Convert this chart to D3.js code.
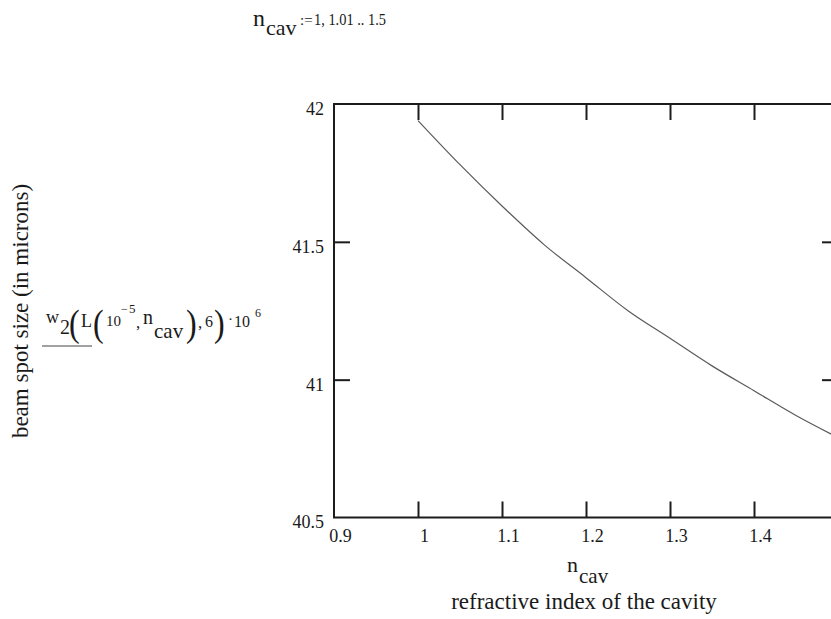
<!DOCTYPE html>
<html>
<head>
<meta charset="utf-8">
<script src="https://cdn.jsdelivr.net/npm/d3@7/dist/d3.min.js"></script>
<style>
  html, body { margin: 0; padding: 0; background: #fff; }
  svg { display: block; }
  text { font-family: "Liberation Serif", "Times New Roman", serif; fill: #1a1a1a; }
</style>
</head>
<body>
<svg id="chart" width="831" height="619"></svg>
<script>
// Refractive index of the cavity (n_cav) and beam spot size in microns
const nCav = [1.00, 1.05, 1.10, 1.15, 1.20, 1.25, 1.30, 1.35, 1.40, 1.45, 1.50];
const spotSize = [41.94, 41.78, 41.63, 41.49, 41.37, 41.25, 41.15, 41.05, 40.96, 40.87, 40.79];

const xTicks = [0.9, 1.0, 1.1, 1.2, 1.3, 1.4];
const xInnerTicks = [1.0, 1.1, 1.2, 1.3, 1.4];
const yTicks = [40.5, 41, 41.5, 42];
const yInnerTicks = [41, 41.5];

const svg = d3.select("#chart");

const plot = { left: 334, right: 838, top: 104, bottom: 517.5 };

const x = d3.scaleLinear().domain([0.9, 1.5]).range([plot.left, plot.right]);
const y = d3.scaleLinear().domain([40.5, 42]).range([plot.bottom, plot.top]);

const axisColor = "#1c1c1c";
const tickLen = 16;
const serif = "'Liberation Serif', 'Times New Roman', serif";

// Frame
svg.append("rect")
  .attr("x", plot.left).attr("y", plot.top)
  .attr("width", plot.right - plot.left).attr("height", plot.bottom - plot.top)
  .attr("fill", "none").attr("stroke", axisColor).attr("stroke-width", 2);

// Inner tick marks on all four sides
function innerTicks(axis, transform) {
  const g = svg.append("g").attr("transform", transform).call(axis);
  g.select(".domain").remove();
  g.selectAll(".tick line").attr("stroke", axisColor).attr("stroke-width", 2);
  g.selectAll(".tick text").remove();
}
innerTicks(d3.axisBottom(x).tickValues(xInnerTicks).tickSize(tickLen).tickFormat(""), `translate(0,${plot.top})`);
innerTicks(d3.axisTop(x).tickValues(xInnerTicks).tickSize(tickLen).tickFormat(""), `translate(0,${plot.bottom})`);
innerTicks(d3.axisRight(y).tickValues(yInnerTicks).tickSize(tickLen).tickFormat(""), `translate(${plot.left},0)`);
innerTicks(d3.axisLeft(y).tickValues(yInnerTicks).tickSize(tickLen).tickFormat(""), `translate(${plot.right},0)`);

// Tick labels
const fmt = d => String(+d.toFixed(2));
const xLab = svg.append("g").attr("transform", `translate(0,${plot.bottom})`)
  .call(d3.axisBottom(x).tickValues(xTicks).tickSize(0).tickPadding(12).tickFormat(fmt));
xLab.select(".domain").remove();
xLab.selectAll(".tick text").attr("font-size", 18).attr("dx", 6).attr("fill", "#1a1a1a")
  .style("font-family", serif);

const yLab = svg.append("g").attr("transform", `translate(${plot.left},0)`)
  .call(d3.axisLeft(y).tickValues(yTicks).tickSize(0).tickPadding(10).tickFormat(fmt));
yLab.select(".domain").remove();
yLab.selectAll(".tick text").attr("font-size", 18).attr("dy", "0.58em").attr("fill", "#1a1a1a")
  .style("font-family", serif);

// Curve
const pts = nCav.map((n, i) => [n, spotSize[i]]);
const line = d3.line().x(d => x(d[0])).y(d => y(d[1])).curve(d3.curveMonotoneX);
svg.append("path").datum(pts)
  .attr("d", line)
  .attr("fill", "none").attr("stroke", "#5a5a5a").attr("stroke-width", 1.2);

// Helper for a single positioned piece of text
function t(parent, xp, yp, s, size) {
  return parent.append("text").attr("x", xp).attr("y", yp).attr("font-size", size).text(s);
}
// Tall parenthesis, stretched vertically
function paren(parent, xp, yp, s, size, sy) {
  return t(parent, xp, yp, s, size)
    .attr("transform", `translate(${xp},${yp}) scale(1,${sy}) translate(${-xp},${-yp})`);
}

// Range definition above the plot
const head = svg.append("g");
t(head, 253, 26, "n", 24);
t(head, 266, 35, "cav", 22);
t(head, 300, 25, ":=", 15);
t(head, 314, 25, "1, 1.01 .. 1.5", 17).attr("textLength", 72).attr("lengthAdjust", "spacingAndGlyphs");

// X axis titles
const xt = svg.append("g");
t(xt, 567, 572, "n", 22);
t(xt, 579, 583, "cav", 21);
svg.append("text").attr("x", 584).attr("y", 609).attr("font-size", 23)
  .attr("text-anchor", "middle").text("refractive index of the cavity");

// Y axis title
svg.append("text").attr("transform", "translate(28,311) rotate(-90)")
  .attr("font-size", 23).attr("text-anchor", "middle").text("beam spot size (in microns)");

// Plotted expression
const ex = svg.append("g");
t(ex, 46, 323, "w", 18);
t(ex, 60, 334, "2", 20);
paren(ex, 69, 336, "(", 32, 1.2);
t(ex, 81, 327, "L", 18);
paren(ex, 93, 336, "(", 32, 1.2);
t(ex, 106, 326, "10", 15);
t(ex, 121, 313, "\u2212", 12);
t(ex, 129, 313, "5", 13);
t(ex, 136, 328, ",", 17);
t(ex, 143, 324, "n", 20);
t(ex, 154, 338, "cav", 21);
paren(ex, 186, 336, ")", 32, 1.2);
t(ex, 198, 328, ",", 17);
t(ex, 205, 327, "6", 16);
paren(ex, 214, 336, ")", 32, 1.2);
t(ex, 228, 324, "\u00b7", 15);
t(ex, 234, 327, "10", 16);
t(ex, 255, 317, "6", 12);
ex.append("line").attr("x1", 42).attr("x2", 92).attr("y1", 346).attr("y2", 346)
  .attr("stroke", "#444").attr("stroke-width", 1.2);
</script>
</body>
</html>
